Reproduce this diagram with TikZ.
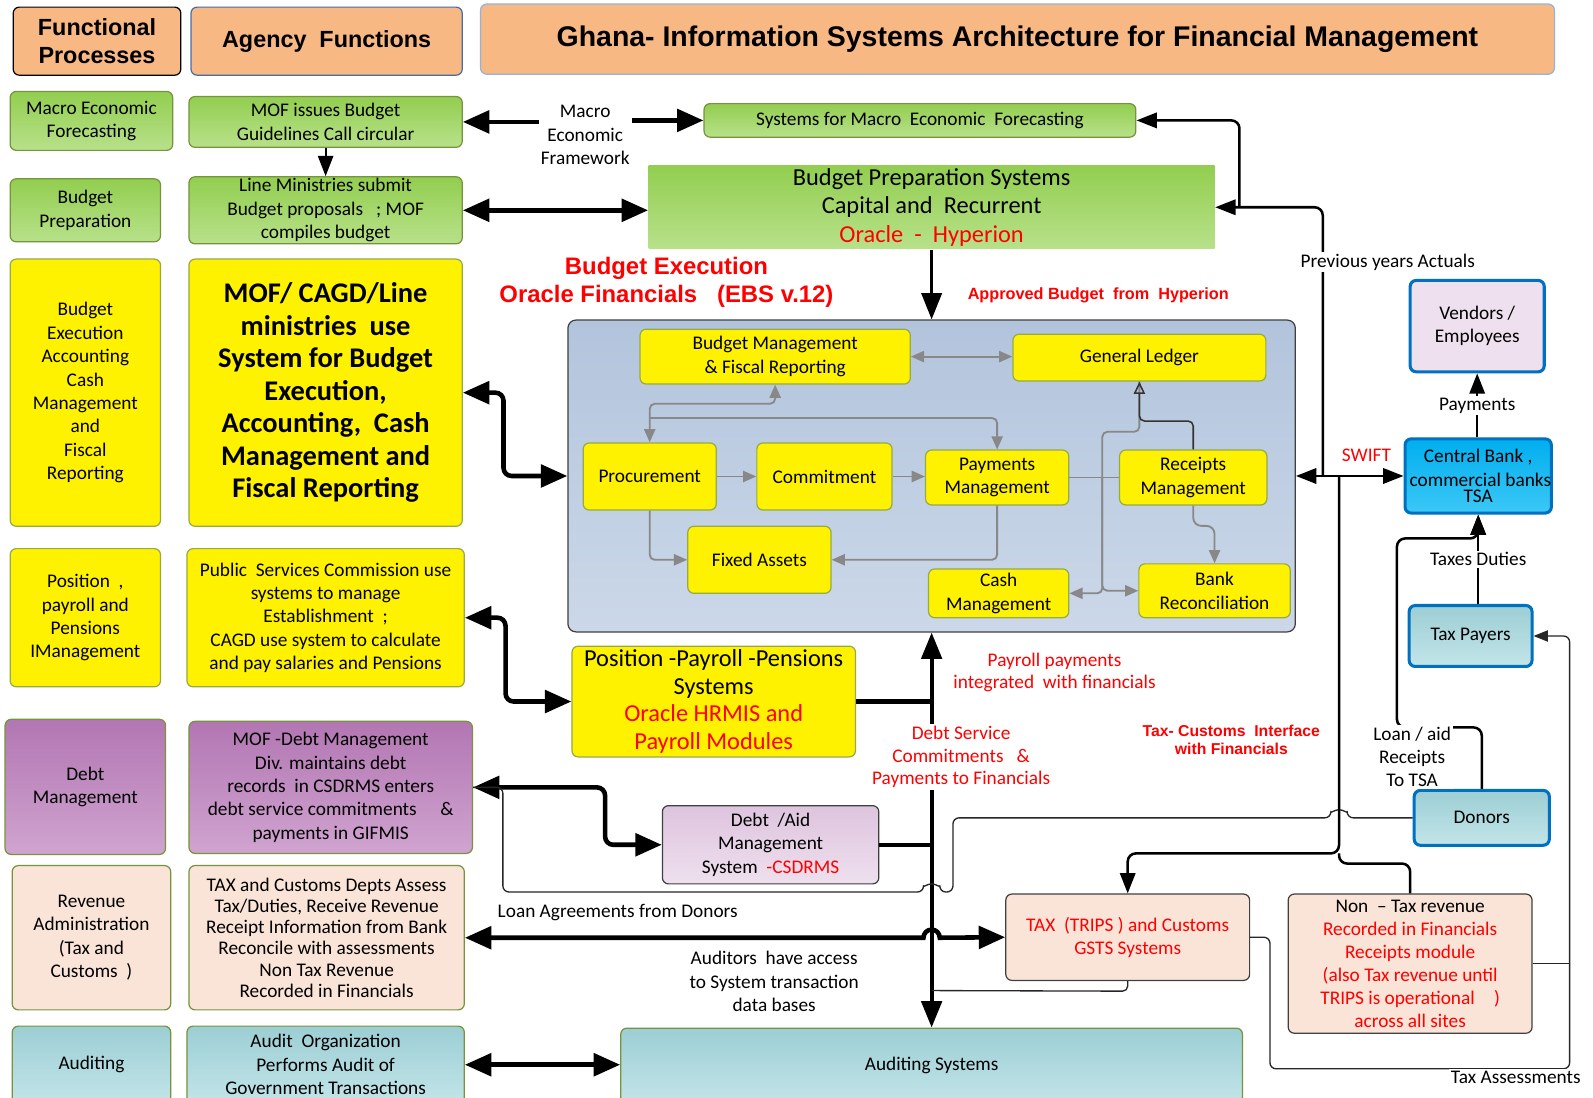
\documentclass[tikz,border=0pt]{standalone}
\usepackage{fontspec}
\setmainfont{Carlito}
\newfontfamily\arialfont{Liberation Sans}
\usetikzlibrary{arrows.meta}

\definecolor{hdrorange}{RGB}{247,184,132}
\definecolor{afline}{RGB}{70,110,165}
\definecolor{titleline}{RGB}{149,179,215}
\definecolor{grntop}{RGB}{146,206,80}
\definecolor{grnbot}{RGB}{184,225,138}
\definecolor{grnline}{RGB}{119,147,60}
\definecolor{yelline}{RGB}{150,170,70}
\definecolor{purtop}{RGB}{178,118,178}
\definecolor{purbot}{RGB}{208,164,208}
\definecolor{peach}{RGB}{250,228,216}
\definecolor{tealtop}{RGB}{156,206,212}
\definecolor{tealbot}{RGB}{194,229,233}
\definecolor{bluetop}{RGB}{178,196,220}
\definecolor{bluebot}{RGB}{204,216,233}
\definecolor{lilactop}{RGB}{222,196,222}
\definecolor{lilacbot}{RGB}{238,224,238}
\definecolor{skytop}{RGB}{0,174,239}
\definecolor{skybot}{RGB}{60,200,246}
\definecolor{edgeblue}{RGB}{0,112,192}
\definecolor{modgray}{RGB}{136,136,136}
\definecolor{boxgray}{RGB}{64,64,64}

\newcommand{\setfs}[2]{\fontsize{#1}{#2}\selectfont}
\tikzset{sz/.style 2 args={minimum width=#1,minimum height=#2}}

\begin{document}
\begin{tikzpicture}[x=1pt,y=-1pt,
    box/.style={rounded corners=6pt,align=center,inner sep=1pt,line width=1.2pt},
    txt/.style={font=\setfs{19}{23}},
    hdr/.style={box,fill=hdrorange,font=\arialfont\bfseries\setfs{23}{27}},
    grn/.style={top color=grntop,bottom color=grnbot,draw=grnline},
    yel/.style={fill=yellow,draw=yelline},
    pur/.style={top color=purtop,bottom color=purbot,draw=grnline},
    pch/.style={fill=peach,draw=grnline},
    tea/.style={top color=tealtop,bottom color=tealbot,draw=grnline},
    ext/.style={box,line width=3pt,draw=edgeblue,txt},
    modl/.style={box,fill=yellow,draw=yelline,txt},
    lbl/.style={align=center,inner sep=2pt,font=\setfs{19}{23}},
    arr/.style={line width=2.5pt,-{Triangle[length=20pt,width=15pt]}},
    darr/.style={line width=2.5pt,{Triangle[length=20pt,width=15pt]}-{Triangle[length=20pt,width=15pt]}},
    bar/.style={line width=4.5pt,-{Triangle[length=26pt,width=22pt]}},
    bdar/.style={line width=4.5pt,{Triangle[length=26pt,width=22pt]}-{Triangle[length=26pt,width=22pt]}},
    spinearr/.style={line width=4pt,-{Triangle[length=26pt,width=20pt]}},
    thinln/.style={line width=1.3pt,draw=black!85},
    thinarr/.style={thinln,-{Triangle[length=14pt,width=11pt]}},
    gline/.style={draw=modgray,line width=1.8pt},
    garr/.style={gline,-{Triangle[length=13pt,width=11pt]}},
    gdar/.style={gline,{Triangle[length=13pt,width=11pt]}-{Triangle[length=13pt,width=11pt]}}
  ]
  \clip (0,0) rectangle (1568,1080);
  \fill[white] (0,0) rectangle (1568,1080);

  % header row
  \node[hdr,draw=black,sz={165}{67}] (fp) at (95.5,40.5) {Functional\\Processes};
  \node[hdr,draw=afline,sz={267}{67}] (af) at (321.5,40.5) {Agency\ \ Functions};
  \node[hdr,draw=titleline,sz={1057}{69},font=\arialfont\bfseries\setfs{28}{32}] (title) at (1001.5,38.5)
       {Ghana- Information Systems Architecture for Financial Management};

  % functional processes
  \node[box,grn,txt,sz={160}{58}] (fMacro) at (90,119) {Macro Economic\\Forecasting};
  \node[box,grn,txt,sz={148}{62}] (fBudget) at (84,207) {Budget\\Preparation};
  \node[box,yel,txt,sz={148}{263}] (fExec) at (84,386.5)
       {Budget\\Execution\\Accounting\\Cash\\Management\\and\\Fiscal\\Reporting};
  \node[box,yel,txt,sz={148}{136}] (fPay) at (84,608) {Position\ \ ,\\payroll and\\Pensions\\IManagement};
  \node[box,pur,txt,sz={158}{133}] (fDebt) at (84,774.5) {Debt\\Management};
  \node[box,pch,txt,sz={156}{142}] (fRev) at (90,923) {Revenue\\Administration\\(Tax and\\Customs\ \ )};
  \node[box,tea,txt,sz={156}{76}] (fAudit) at (90,1048) {Auditing};

  % agency functions
  \node[box,grn,txt,sz={269}{50}] (aCall) at (320.5,120) {MOF issues Budget\\Guidelines Call circular};
  \node[box,grn,txt,sz={269}{66}] (aSubmit) at (320.5,207)
       {Line Ministries submit\\Budget proposals\ \ \ ; MOF\\compiles budget};
  \node[box,yel,sz={269}{263},font=\bfseries\setfs{28}{32}] (aExec) at (320.5,386.5)
       {MOF/ CAGD/Line\\ministries\ \ use\\System for Budget\\Execution,\\Accounting,\ \ Cash\\Management and\\Fiscal Reporting};
  \node[box,yel,txt,sz={273}{136}] (aPay) at (320.5,608)
       {Public\ \ Services Commission use\\systems to manage\\Establishment\ \ ;\\CAGD use system to calculate\\and pay salaries and Pensions};
  \node[box,pur,txt,sz={279}{130}] (aDebt) at (325.5,775)
       {MOF -Debt Management\\Div. maintains debt\\records\ \ in CSDRMS enters\\debt service commitments\quad\ \&\\payments in GIFMIS};
  \node[box,pch,sz={271}{142},font=\setfs{19}{20.8}] (aRev) at (321.5,923)
       {TAX and Customs Depts Assess\\Tax/Duties, Receive Revenue\\Receipt Information from Bank\\Reconcile with assessments\\Non Tax Revenue\\Recorded in Financials};
  \node[box,tea,txt,sz={273}{76}] (aAudit) at (320.5,1048)
       {Audit\ \ Organization\\Performs Audit of\\Government Transactions};

  % systems
  \node[box,grn,txt,sz={425}{33}] (sMacro) at (905.5,118.5) {Systems for Macro\ \ Economic\ \ Forecasting};
  \node[box,grn,draw=none,rounded corners=0pt,sz={557}{82},font=\setfs{24}{28}] (sBudget) at (917,204)
       {Budget Preparation Systems\\Capital and\ \ Recurrent\\\textcolor{red}{Oracle\ \ -\ \ Hyperion}};
  \node[box,draw=boxgray,top color=bluetop,bottom color=bluebot,rounded corners=8pt,sz={716}{307}] (fin) at (917,468.5) {};

  \node[modl,sz={266}{54}] (mBudget) at (763,351) {Budget Management\\\&\ Fiscal Reporting};
  \node[modl,sz={249}{46}] (mGL) at (1121.5,352) {General Ledger};
  \node[modl,sz={131}{66}] (mProc) at (639.5,469) {Procurement};
  \node[modl,sz={133}{66}] (mCommit) at (811.5,469) {Commitment};
  \node[modl,sz={141}{54}] (mPay) at (981.5,470) {Payments\\Management};
  \node[modl,sz={145}{54}] (mRcpt) at (1174.5,470) {Receipts\\Management};
  \node[modl,sz={141}{66}] (mAssets) at (747.5,551) {Fixed Assets};
  \node[modl,sz={138}{48}] (mCash) at (983,584) {Cash\\Management};
  \node[modl,sz={149}{53}] (mBank) at (1195.5,581.5) {Bank\\Reconciliation};

  \node[box,yel,sz={279}{109},font=\setfs{24}{27}] (sPay) at (702.5,690.5)
       {Position -Payroll -Pensions\\Systems\\\textcolor{red}{Oracle HRMIS and}\\\textcolor{red}{Payroll Modules}};
  \node[box,draw=boxgray,top color=lilactop,bottom color=lilacbot,txt,sz={213}{77}] (sDebt) at (758.5,831.5)
       {Debt\ \ /Aid\\Management\\System\ \ \textcolor{red}{-CSDRMS}};
  \node[box,draw=boxgray,fill=peach,txt,text=red,sz={240}{85}] (sTax) at (1110,922.5)
       {TAX\ \ (TRIPS ) and Customs\\GSTS Systems};
  \node[box,draw=boxgray,fill=peach,font=\setfs{19}{22.6},sz={240}{137}] (sNonTax) at (1388,948.5)
       {Non\ \ -- Tax revenue\\\textcolor{red}{Recorded in Financials}\\\textcolor{red}{Receipts module}\\\textcolor{red}{(also Tax revenue until}\\\textcolor{red}{TRIPS is operational\quad)}\\\textcolor{red}{across all sites}};
  \node[box,tea,txt,sz={612}{74}] (sAudit) at (917,1049) {Auditing Systems};

  % outside parties
  \node[ext,fill=lilacbot,sz={132}{90}] (vendors) at (1454,321) {Vendors /\\Employees};
  \node[ext,top color=skytop,bottom color=skybot,sz={144}{73}] (bank) at (1455,468.5)
       {Central Bank ,\\\makebox[110pt][c]{\ commercial banks}\\[-7pt]TSA};
  \node[ext,top color=tealtop,bottom color=tealbot,sz={121}{60}] (payers) at (1447.5,626) {Tax Payers};
  \node[ext,top color=tealtop,bottom color=tealbot,sz={133}{54}] (donors) at (1458.5,805) {Donors};

  % labels that lines stop at
  \node[lbl] (lMacro) at (576,133) {Macro\\Economic\\Framework};
  \node[lbl,text=red,font=\setfs{19}{22.5}] (lDebtSvc) at (946,745)
       {Debt Service\\Commitments\ \ \ \&\\Payments to Financials};

  \coordinate (prevj) at (1302,468.5);
  \coordinate (taxj) at (1318,468.5);
  \coordinate (taxsplit) at (1318,840);
  \coordinate (bpj) at (1220,204);
  \coordinate (audj) at (917,975);
  \coordinate (nontaxj) at (1545,948.5);
  \coordinate (bus) at (1085,470);

  % connectors
  \draw[arr,line width=2pt] (aCall) -- (aSubmit);
  \draw[bar] (lMacro.west |- aCall.east) -- (aCall.east);
  \draw[bar] (lMacro.east |- sMacro.west) -- (sMacro.west);
  \draw[bdar] (aSubmit.east) -- (aSubmit.east -| sBudget.west);
  \draw[spinearr,line width=3pt] (sBudget.south) -- (fin.north);
  \draw[arr,rounded corners=8pt] (prevj) |- (sBudget.east);
  \draw[arr,rounded corners=8pt] (bpj) |- (sMacro.east);

  \draw[bdar,rounded corners=8pt] (aExec.east) -- ++(40,0) |- (fin.west);
  \draw[bdar,rounded corners=8pt] (aPay.east) -- ++(40,0) |- (sPay.west);
  \draw[bdar,rounded corners=8pt] (aDebt.east) -- ++(130,0) |- (sDebt.west);
  \draw[bdar] (aAudit.east) -- (aAudit.east -| sAudit.west);
  \draw[bdar] (aRev.east) -- (909,923) arc[start angle=180,end angle=360,radius=8] -- (sTax.west);

  \draw[spinearr] (lDebtSvc.north -| fin.south) -- (fin.south);
  \draw[spinearr] (lDebtSvc.south -| fin.south) -- (sAudit.north);
  \draw[line width=4pt] (sPay.east) -- (sPay.east -| fin.south);
  \draw[line width=4pt] (sDebt.east) -- (sDebt.east -| fin.south);
  \draw[thinln,rounded corners=5pt] (sTax.south) -- ++(0,10) -- (audj);

  \draw[thinln,rounded corners=6pt] (donors.west) -- (1326,805) arc[start angle=0,end angle=-180,radius=8]
       -- (938,805) -- (938,878) -- (925,878) arc[start angle=0,end angle=-180,radius=8]
       -- (495,878) -- (495,775) -- (aDebt.east);

  \draw[darr] (fin.east) -- (bank.west);
  \draw[arr,rounded corners=8pt] (taxj) -- (taxsplit) -| (sTax.north);
  \draw[line width=2.5pt,rounded corners=8pt] (taxsplit) -- ++(0,10) -| (sNonTax.north);
  \draw[arr] (bank.north -| vendors.south) -- node[lbl,fill=white] {Payments} (vendors.south);
  \draw[arr] (payers.north -| bank.south) -- node[lbl,fill=white] {Taxes Duties} (bank.south);
  \draw[arr,rounded corners=8pt] (donors.north) |- (1375,716) -- (1375,530) -| (bank.south);
  \draw[thinarr,rounded corners=6pt] (sTax.east) -- (1250,922.5) -- (1250,1052) -- (1545,1052) |- (payers.east);
  \draw[thinln] (sNonTax.east) -- (nontaxj);

  % inside the financials box
  \draw[gdar] (mBudget.east) -- (mBudget.east -| mGL.west);
  \draw[garr] (mProc) -- (mCommit);
  \draw[garr] (mCommit.east) -- (mCommit.east -| mPay.west);
  \draw[gdar,rounded corners=5pt] (mProc.north) -- ++(0,-38) -| (mBudget.south);
  \draw[garr,rounded corners=5pt] (mProc.north) ++(0,-24) -| (mPay.north);
  \draw[garr,rounded corners=5pt] (mProc.south) |- (mAssets.west);
  \draw[garr,rounded corners=5pt] (mPay.south) |- (mAssets.east);
  \draw[gline] (mPay.east) -- (mRcpt.west);
  \draw[garr,rounded corners=5pt] (bus) |- (mCash.east);
  \draw[garr,rounded corners=5pt] (bus) |- (mBank.west);
  \draw[gline,rounded corners=5pt] (bus) -- ++(0,-45) -| (mGL.south);
  \draw[line width=1.5pt,draw=black!80,rounded corners=5pt,-{Triangle[open,length=12pt,width=11pt]}]
       (mRcpt.north) -- ++(0,-28) -| (mGL.south);
  \draw[garr,rounded corners=8pt] (mRcpt.south) -- ++(0,20) -| (mBank.north);

  % free labels
  \node[lbl,text=red,font=\arialfont\bfseries\setfs{23.5}{27}] (lExec) at (656,278)
       {Budget Execution\\Oracle Financials\ \ \ (EBS v.12)};
  \node[lbl,text=red,font=\arialfont\bfseries\setfs{16}{19}] (lApproved) at (1081,291)
       {Approved Budget\ \ from\ \ Hyperion};
  \node[lbl,fill=white] (lPrev) at (1366,258) {Previous years Actuals};
  \node[lbl,text=red] (lSwift) at (1345,448) {SWIFT};
  \node[lbl,text=red,font=\setfs{19}{22}] (lPayroll) at (1038,662) {Payroll payments\\integrated\ \ with financials};
  \node[lbl,text=red,font=\arialfont\bfseries\setfs{15.5}{18}] (lInterface) at (1212,728)
       {Tax- Customs\ \ Interface\\with Financials};
  \node[lbl] (lLoanAgr) at (608,898) {Loan Agreements from Donors};
  \node[lbl,font=\setfs{19}{23.5}] (lAuditors) at (762,966) {Auditors\ \ have access\\to System transaction\\data bases};
  \node[lbl,fill=white,font=\setfs{19}{22.5}] (lLoan) at (1390,745) {Loan / aid\\Receipts\\To TSA};
  \node[lbl,fill=white] (lTaxAss) at (1492,1060) {Tax Assessments};
\end{tikzpicture}
\end{document}
